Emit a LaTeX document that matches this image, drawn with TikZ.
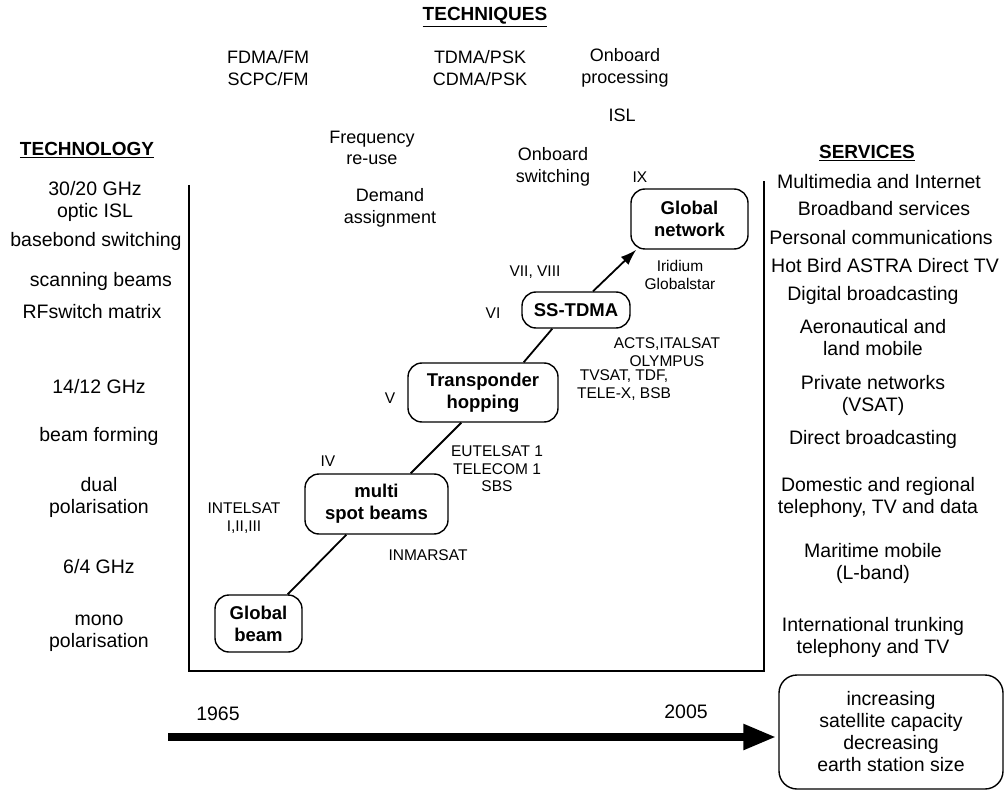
\documentclass[tikz,border=0pt]{standalone}
\usepackage{fontspec}
\setmainfont{Liberation Sans}
\usetikzlibrary{arrows.meta}
\begin{document}
\begin{tikzpicture}[x=1pt,y=-1pt,
  big/.style={font=\fontsize{19.5}{22}\selectfont, align=center, inner sep=0pt},
  tech/.style={font=\fontsize{18}{21.5}\selectfont, align=center, inner sep=0pt},
  small/.style={font=\fontsize{15.5}{17.5}\selectfont, align=center, inner sep=0pt},
  head/.style={font=\bfseries\fontsize{19}{22}\selectfont, inner sep=0pt},
  stage/.style={draw, line width=1.4pt, rounded corners=14pt, align=center, inner sep=0pt,
    font=\bfseries\fontsize{18.5}{22}\selectfont},
  link/.style={line width=1.8pt},
  axisline/.style={line width=1.4pt}]
\useasboundingbox (0,0) rectangle (1006,791);
% frame
\draw[axisline] (189,185) -- (189,671) -- (764,671) -- (764,181);
% headings
\node[head] (hTech) at (485,17) {\underline{TECHNIQUES}};
\node[head] (hTechno) at (87,150) {\underline{TECHNOLOGY}};
\node[head] (hServ) at (867,153) {\underline{SERVICES}};
% techniques
\node[tech] (t1) at (268,68) {FDMA/FM\\SCPC/FM};
\node[tech] (t2) at (480,68) {TDMA/PSK\\CDMA/PSK};
\node[tech] (t3) at (625,68) {Onboard\\processing};
\node[tech] (t4) at (622,115) {ISL};
\node[tech] (t5) at (372,148) {Frequency\\re-use};
\node[tech] (t6) at (390,208) {Demand\\assignment};
\node[tech] (t7) at (553,167) {Onboard\\switching};
% technology
\node[big] (g1) at (95,201) {30/20 GHz\\optic ISL};
\node[big] (g2) at (96,241) {basebond switching};
\node[big] (g3) at (101,281) {scanning beams};
\node[big] (g4) at (92,312) {RFswitch matrix};
\node[big] (g5) at (99,387) {14/12 GHz};
\node[big] (g6) at (99,436) {beam forming};
\node[big] (g7) at (99,497) {dual\\polarisation};
\node[big] (g8) at (99,567) {6/4 GHz};
\node[big] (g9) at (99,633) {mono\\polarisation};
% services
\node[big] (s1) at (879,182) {Multimedia and Internet};
\node[big] (s2) at (884,209) {Broadband services};
\node[big] (s3) at (881,238) {Personal communications};
\node[big] (s4) at (885,266) {Hot Bird ASTRA Direct TV};
\node[big] (s5) at (873,295) {Digital broadcasting};
\node[big] (s6) at (873,338) {Aeronautical and\\land mobile};
\node[big] (s7) at (873,395) {Private networks\\(VSAT)};
\node[big] (s8) at (873,439) {Direct broadcasting};
\node[big] (s9) at (878,497) {Domestic and regional\\telephony, TV and data};
\node[big] (s10) at (873,563) {Maritime mobile\\(L-band)};
\node[big] (s11) at (873,637) {International trunking\\telephony and TV};
% stages
\node[stage, minimum width=87pt, minimum height=57pt] (gb) at (258.5,623.5) {Global\\beam};
\node[stage, minimum width=143pt, minimum height=60pt] (ms) at (376.5,504) {multi\\spot beams};
\node[stage, minimum width=150pt, minimum height=59pt] (tp) at (483,392.5) {Transponder\\hopping};
\node[stage, minimum width=108pt, minimum height=36pt] (ss) at (576,310) {SS-TDMA};
\node[stage, minimum width=117pt, minimum height=60pt] (gn) at (689.5,219) {Global\\network};
% connectors
\draw[link] ([xshift=-15pt]gb.north east) -- ([xshift=42pt]ms.south west);
\draw[link] ([xshift=-38pt]ms.north east) -- ([xshift=54pt]tp.south west);
\draw[link] ([xshift=-35pt]tp.north east) -- ([xshift=31pt]ss.south west);
\draw[link, -{Latex[length=16pt,width=11pt]}] ([xshift=17pt]ss.north) -- ([xshift=6pt]gn.south west);
% small labels
\node[small] (lIX) at (640,177) {IX};
\node[small] (lVII) at (535,272) {VII, VIII};
\node[small] (lVI) at (493,313) {VI};
\node[small] (lIr) at (680,275) {Iridium\\Globalstar};
\node[small] (lAc) at (667,352) {ACTS,ITALSAT\\OLYMPUS};
\node[small] (lV) at (390,398) {V};
\node[small] (lTv) at (624,385) {TVSAT, TDF,\\TELE-X, BSB};
\node[small] (lIV) at (328,461) {IV};
\node[small] (lEu) at (497,469) {EUTELSAT 1\\TELECOM 1\\SBS};
\node[small] (lIn) at (244,518) {INTELSAT\\I,II,III};
\node[small] (lIm) at (428,555) {INMARSAT};
% timeline
\node[big] (y1) at (218,714) {1965};
\node[big] (y2) at (686,712) {2005};
\node[big, draw, line width=1.4pt, rounded corners=18pt, minimum width=224pt, minimum height=114pt] (inc) at (891,732) {increasing\\satellite capacity\\decreasing\\earth station size};
\coordinate (tStart) at (168,737);
\draw[line width=8pt, -{Triangle[length=33pt,width=24pt]}] (tStart) -- ([xshift=-2pt]inc.west |- tStart);
\end{tikzpicture}
\end{document}
